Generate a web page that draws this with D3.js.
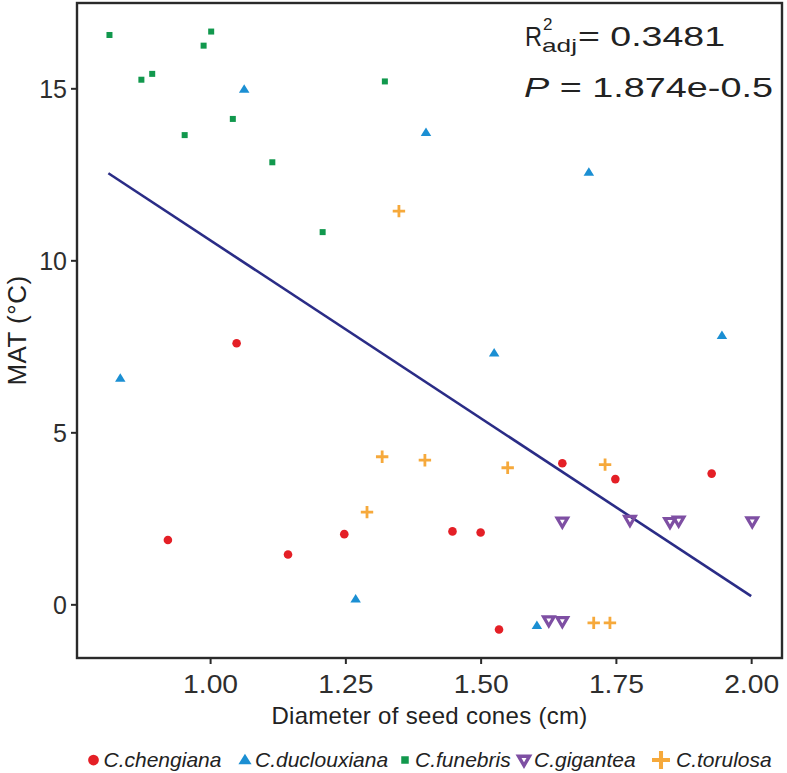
<!DOCTYPE html>
<html><head><meta charset="utf-8">
<script src="https://cdn.jsdelivr.net/npm/d3@7"></script>
<style>body{margin:0;background:#fff}svg{display:block}text{font-family:"Liberation Sans",Arial,sans-serif}</style>
</head><body><svg id="c" width="787" height="773"></svg>
<script>
const species = ["C.chengiana","C.duclouxiana","C.funebris","C.gigantea","C.torulosa"];
const chengianaX = [1.049,0.922,1.144,1.248,1.448,1.500,1.534,1.651,1.749,1.927];
const chengianaY = [7.59,1.87,1.45,2.04,2.12,2.09,-0.73,4.10,3.64,3.80];
const duclouxianaX = [1.063,1.399,1.700,0.834,1.525,1.946,1.269,1.604];
const duclouxianaY = [14.97,13.71,12.56,6.57,7.30,7.81,0.15,-0.62];
const funebrisX = [0.814,1.002,0.988,0.873,0.893,1.323,1.042,0.953,1.115,1.208];
const funebrisY = [16.55,16.65,16.24,15.25,15.42,15.20,14.11,13.64,12.85,10.82];
const giganteaX = [1.651,1.776,1.850,1.866,2.002,1.626,1.651];
const giganteaY = [2.40,2.45,2.39,2.43,2.41,-0.47,-0.49];
const torulosaX = [1.349,1.318,1.397,1.290,1.550,1.730,1.709,1.739];
const torulosaY = [11.43,4.29,4.19,2.68,3.97,4.06,-0.54,-0.54];
const fitX = [0.812,2.0];
const fitY = [12.53,0.24];
const xTicks = [1.00,1.25,1.50,1.75,2.00];
const yTicks = [0,5,10,15];
const colors = ["#e41f26","#1b8fd3","#11984d","#7e4fa3","#f6a93b"];

const svg = d3.select("#c");
const L=77,R=782,T=3,B=658;
const x = d3.scaleLinear().domain([0.754,2.057]).range([L,R]);
const y = d3.scaleLinear().domain([-1.56,17.48]).range([B,T]);

const groups = [
  {X:chengianaX,Y:chengianaY},{X:duclouxianaX,Y:duclouxianaY},{X:funebrisX,Y:funebrisY},
  {X:giganteaX,Y:giganteaY},{X:torulosaX,Y:torulosaY}];

function drawSym(g, k, cx, cy, scale){
  const s = scale||1;
  const c = colors[k];
  if(k===0){
    g.append("circle").attr("cx",cx).attr("cy",cy).attr("r",4.3*s).attr("fill",c);
  } else if(k===1){
    const h=8.5*s, w=10.5*s;
    g.append("path").attr("d",`M${cx},${cy-h*0.6}L${cx+w/2},${cy+h*0.4}L${cx-w/2},${cy+h*0.4}Z`).attr("fill",c);
  } else if(k===2){
    const a=6*s;
    g.append("rect").attr("x",cx-a/2).attr("y",cy-a/2).attr("width",a).attr("height",a).attr("fill",c);
  } else if(k===3){
    const w=10.5*s, h=9*s;
    g.append("path").attr("d",`M${cx-w/2},${cy-h*0.4}L${cx+w/2},${cy-h*0.4}L${cx},${cy+h*0.6}Z`)
      .attr("fill","none").attr("stroke",c).attr("stroke-width",3.2*s).attr("stroke-linejoin","miter");
  } else {
    const a=6.2*s;
    g.append("path").attr("d",`M${cx-a},${cy}H${cx+a}M${cx},${cy-a}V${cy+a}`)
      .attr("stroke",c).attr("stroke-width",2.8*s).attr("fill","none");
  }
}

svg.append("line").attr("x1",x(fitX[0])).attr("y1",y(fitY[0])).attr("x2",x(fitX[1])).attr("y2",y(fitY[1]))
  .attr("stroke","#2a2c86").attr("stroke-width",2.6);

const pg = svg.append("g");
groups.forEach((gr,k)=>{
  gr.X.forEach((v,i)=>drawSym(pg,k,x(v),y(gr.Y[i])));
});

const xa = svg.append("g").attr("transform",`translate(0,${B})`)
  .call(d3.axisBottom(x).tickValues(xTicks).tickFormat(d3.format(".2f")).tickSize(6).tickPadding(10));
const ya = svg.append("g").attr("transform",`translate(${L},0)`)
  .call(d3.axisLeft(y).tickValues(yTicks).tickFormat(d3.format("d")).tickSize(6).tickPadding(4));
[xa,ya].forEach(a=>{
  a.select(".domain").remove();
  a.selectAll(".tick line").attr("stroke","#2a2a2a").attr("stroke-width",2);
  a.selectAll(".tick text").attr("fill","#2e2e2e").style("font-size","25px").style("font-family","Liberation Sans, Arial, sans-serif");
});
xa.selectAll(".tick text").attr("dy","0").attr("y",35).attr("textLength",55).attr("lengthAdjust","spacingAndGlyphs");
ya.selectAll(".tick text").attr("dy","0.36em");

svg.append("rect").attr("x",L).attr("y",T).attr("width",R-L).attr("height",B-T)
  .attr("fill","none").attr("stroke","#2a2a2a").attr("stroke-width",2.4);

svg.append("text").attr("x",(L+R)/2).attr("y",724).attr("text-anchor","middle")
  .attr("fill","#222").style("font-size","24px").style("letter-spacing","0.3px").text("Diameter of seed cones (cm)");
svg.append("text").attr("transform",`translate(26,${(T+B)/2}) rotate(-90)`).attr("text-anchor","middle")
  .attr("fill","#222").style("font-size","26px").style("letter-spacing","0.5px").text("MAT (°C)");

const an = svg.append("g").attr("fill","#222");
an.append("text").attr("x",525).attr("y",46).style("font-size","27px").attr("textLength",17).attr("lengthAdjust","spacingAndGlyphs").text("R");
an.append("text").attr("x",543).attr("y",30).style("font-size","17px").text("2");
an.append("text").attr("x",542).attr("y",52).style("font-size","19px").attr("textLength",35).attr("lengthAdjust","spacingAndGlyphs").text("adj");
an.append("text").attr("x",578).attr("y",46).style("font-size","27px").attr("textLength",147).attr("lengthAdjust","spacingAndGlyphs").text("= 0.3481");
const p = an.append("text").attr("x",524).attr("y",97).style("font-size","27px").attr("textLength",249).attr("lengthAdjust","spacingAndGlyphs");
p.append("tspan").style("font-style","italic").text("P");
p.append("tspan").text(" = 1.874e-0.5");

const legX = [93.5,245,405,524,661];
const lg = svg.append("g");
species.forEach((s,k)=>{
  drawSym(lg,k,legX[k],760, k===4?1.45:(k===3?1.05:1.25));
  lg.append("text").attr("x",legX[k]+(k===4?15:10)).attr("y",767).style("font-size","21px")
    .style("font-style","italic").attr("fill","#222").text(s);
});
</script></body></html>
